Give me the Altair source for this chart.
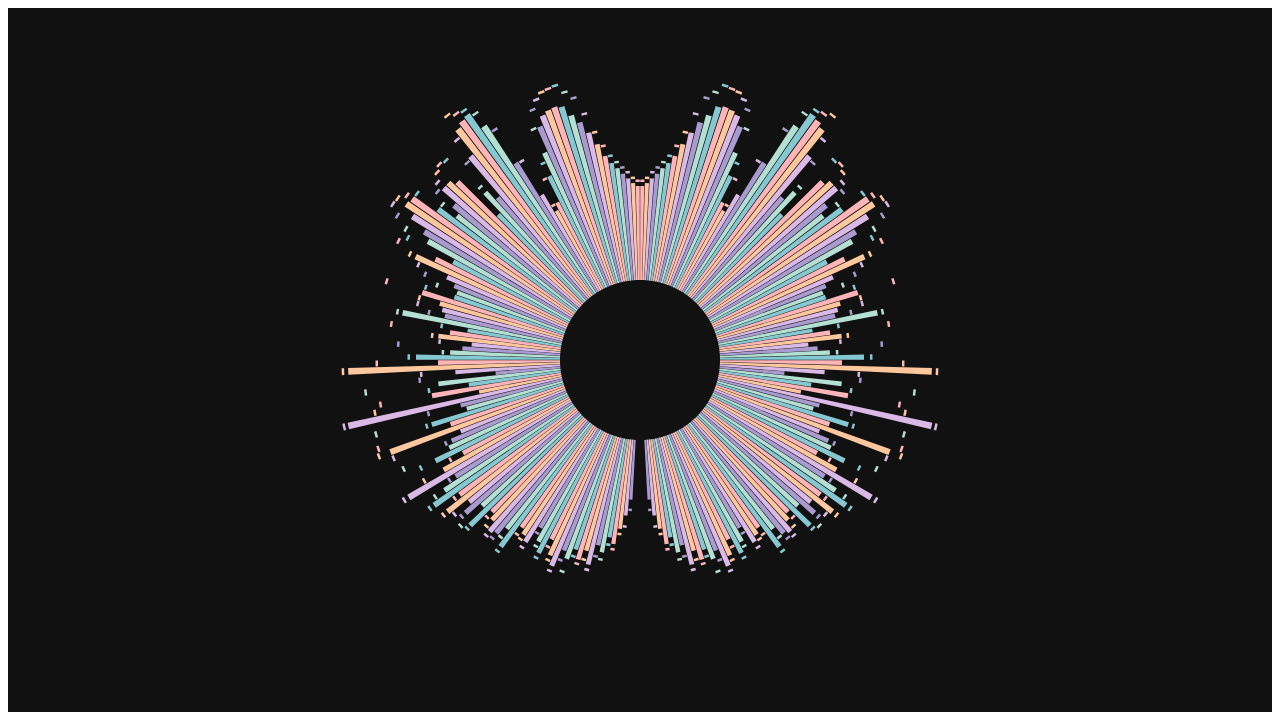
import math
import altair as alt
import pandas as pd

# six-tone palette, cycling bar by bar
tone_names = ["pink", "peach", "lilac", "lavender", "mint", "teal"]
tone_colors = ["#FFB5B8", "#FFC79E", "#DAB9E6", "#A99BCF", "#B4E0D3", "#86C8D1"]

# right half (clockwise from top); the left half mirrors it
levels = [
    94, 97, 102, 107, 113, 119, 127, 140, 153, 165,
    174, 185, 187, 186, 183, 174, 148, 125, 98, 91,
    112, 153, 201, 220, 218, 214, 185, 136, 148, 123,
    175, 181, 181, 162, 153, 172, 199, 201, 189, 171,
    163, 131, 148, 167, 130, 120, 115, 116, 148, 128,
    124, 120, 162, 95, 112, 123, 89, 98, 110, 144,
    122, 212, 105, 65, 123, 93, 131, 84, 219, 105,
    100, 138, 120, 186, 113, 125, 130, 148, 120, 145,
    189, 138, 155, 172, 145, 165, 142, 152, 135, 157,
    132, 138, 148, 145, 135, 153, 125, 130, 135, 115,
    128, 138, 120, 135, 144, 125, 132, 120, 129, 118,
    131, 110, 116, 100, 106, 90, 76, 60,
]
# peak-hold markers for the same bins
peaks = [
    98, 101, 107, 112, 118, 125, 136, 151, 171, 189,
    197, 206, 205, 204, 199, 191, 173, 138, 123, 96,
    150, 191, 215, 224, 226, 230, 205, 181, 154, 197,
    199, 195, 188, 182, 170, 197, 204, 210, 211, 201,
    187, 181, 188, 172, 160, 150, 135, 145, 184, 148,
    148, 135, 166, 120, 170, 128, 120, 161, 116, 150,
    182, 216, 138, 140, 195, 132, 182, 189, 222, 137,
    193, 142, 195, 197, 184, 130, 179, 163, 133, 166,
    193, 144, 165, 176, 150, 169, 160, 156, 163, 160,
    138, 145, 152, 150, 144, 157, 132, 134, 140, 120,
    132, 142, 127, 139, 148, 134, 144, 126, 132, 126,
    135, 120, 122, 106, 110, 94, 86, 69,
]

rows = []
for side in ("R", "L"):
    for i, (lv, pk) in enumerate(zip(levels, peaks)):
        rows.append({"side": side, "idx": i, "level": lv, "peak": pk,
                     "tone": tone_names[i % len(tone_names)]})
df = pd.DataFrame(rows)

theta_scale = alt.Scale(domain=[0, 240], range=[0, 2 * math.pi])
radius_scale = alt.Scale(type="linear", domain=[0, 230], range=[80, 310])
color = alt.Color("tone:N",
                  scale=alt.Scale(domain=tone_names, range=tone_colors),
                  legend=None)

base = alt.Chart(df).transform_calculate(
    t0="datum.side == 'R' ? datum.idx + 0.06 : 239.06 - datum.idx"
).transform_calculate(
    t1="datum.t0 + 0.88",
    pk2="datum.peak + 2.5",
)

bars = base.mark_arc().encode(
    theta=alt.Theta("t0:Q", scale=theta_scale, stack=None),
    theta2="t1:Q",
    radius=alt.Radius("level:Q", scale=radius_scale),
    radius2=alt.datum(0),
    color=color,
)

caps = base.mark_arc().encode(
    theta=alt.Theta("t0:Q", scale=theta_scale, stack=None),
    theta2="t1:Q",
    radius=alt.Radius("pk2:Q", scale=radius_scale),
    radius2="peak:Q",
    color=color,
)

chart = alt.layer(bars, caps).properties(
    width=1264,
    height=704,
    padding=0,
    background="#111111",
).configure_view(stroke=None)

chart.save("out.html", embed_options={"renderer": "svg", "actions": False})
